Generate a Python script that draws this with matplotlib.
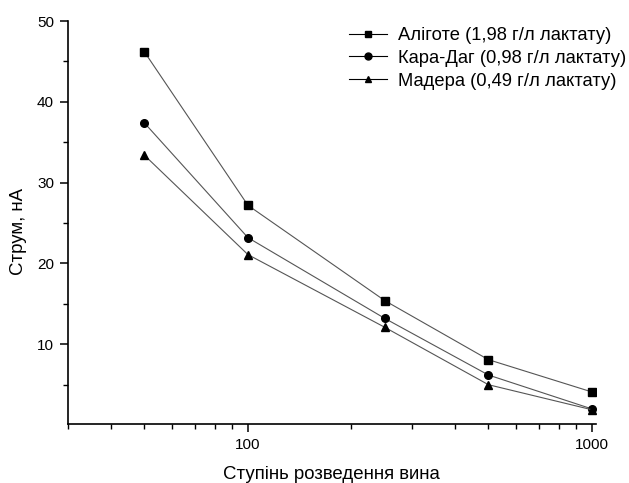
import matplotlib
matplotlib.use("Agg")
import matplotlib.pyplot as plt
from matplotlib.ticker import FixedLocator, NullFormatter, FixedFormatter

plt.rcParams['font.family'] = ['Liberation Sans', 'DejaVu Sans']

dilution = [50, 100, 250, 500, 1000]
aligote = [46.2, 27.2, 15.4, 8.1, 4.1]
kara_dag = [37.4, 23.2, 13.2, 6.2, 2.0]
madera = [33.4, 21.1, 12.1, 5.0, 1.9]
labels = ["Аліготе (1,98 г/л лактату)",
          "Кара-Даг (0,98 г/л лактату)",
          "Мадера (0,49 г/л лактату)"]

fig = plt.figure(figsize=(6.29, 4.83), dpi=100)
ax = fig.add_axes([0.1081, 0.1215, 0.8394, 0.835])

series = [(aligote, 's'), (kara_dag, 'o'), (madera, '^')]
for (vals, m), lab in zip(series, labels):
    ax.plot(dilution, vals, color='#555555', lw=0.8, marker=m,
            markersize=5.5, markerfacecolor='black', markeredgecolor='black',
            label=lab)

ax.set_xscale('log')
ax.set_xlim(30, 1027)
ax.set_ylim(0.1, 50)

ax.xaxis.set_major_locator(FixedLocator([100, 1000]))
ax.xaxis.set_major_formatter(FixedFormatter(['100', '1000']))
minor_x = [30, 40, 50, 60, 70, 80, 90, 200, 300, 400, 500, 600, 700, 800, 900]
ax.xaxis.set_minor_locator(FixedLocator(minor_x))
ax.xaxis.set_minor_formatter(NullFormatter())

ax.yaxis.set_major_locator(FixedLocator([10, 20, 30, 40, 50]))
ax.yaxis.set_minor_locator(FixedLocator([5, 15, 25, 35, 45]))

ax.spines['top'].set_visible(False)
ax.spines['right'].set_visible(False)
for s in ['left', 'bottom']:
    ax.spines[s].set_linewidth(1.2)
ax.tick_params(which='major', direction='out', length=6, width=1.1, labelsize=11, color='black', pad=4)
ax.tick_params(which='minor', direction='out', length=3.5, width=1.0)

ax.set_xlabel('Ступінь розведення вина', fontsize=13.4)
ax.xaxis.set_label_coords((331 - 68) / (596 - 68), (424.3 - 474) / (424.3 - 21), transform=ax.transAxes)
ax.set_ylabel('Струм, нА', fontsize=13.4)
ax.yaxis.set_label_coords(-(68 - 19) / (596 - 68), (424.3 - 231) / (424.3 - 21), transform=ax.transAxes)
ax.xaxis.label.set_va('center')
ax.yaxis.label.set_va('center')

leg = fig.legend(handles=ax.get_legend_handles_labels()[0], labels=labels,
                 loc='upper left', bbox_to_anchor=(349 / 629, 1 - 27 / 483),
                 bbox_transform=fig.transFigure, frameon=False,
                 fontsize=13.2, handlelength=2.1, handletextpad=0.55,
                 labelspacing=0.32, borderpad=0, borderaxespad=0)
for h in leg.legend_handles:
    h.set_color('black')
    h.set_linewidth(0.8)
    h.set_markersize(5)

fig.savefig('out.png', dpi=100)
